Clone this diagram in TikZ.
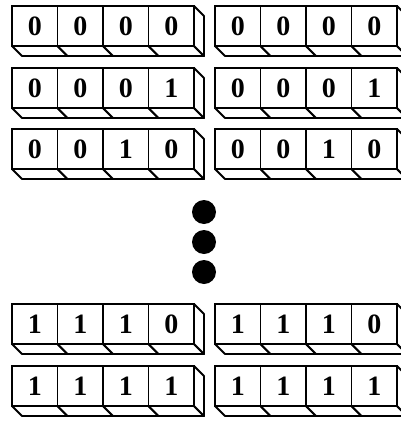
\documentclass[tikz,border=0pt]{standalone}
\usepackage{fontspec}
\setmainfont{Liberation Serif}
\usepackage{tikz}

\newcommand{\cellfont}{\fontsize{28}{28}\selectfont\bfseries}

\tikzset{
  cellbox/.style={draw, fill=white, line width=1.9pt, minimum width=45.5pt,
                  minimum height=40pt, inner sep=0pt, outer sep=0pt, font=\cellfont},
  sideface/.style={draw, fill=white, line width=1.9pt, line join=round},
  dotmark/.style={circle, fill=black, minimum size=24pt, inner sep=0pt}
}

\begin{document}
\begin{tikzpicture}[x=1pt,y=-1pt]
                        \useasboundingbox (0,0) rectangle (401,421);
                        \clip (0,0) rectangle (401,421);

                        % Registers
                        \foreach \row/\top/\ba/\bb/\bc/\bd in {1/6/0/0/0/0, 2/68/0/0/0/1, 3/129/0/0/1/0, 4/304/1/1/1/0, 5/366/1/1/1/1}{
                          \foreach \grp/\xo in {L/12, R/215}{
                            % Front cells
                            \foreach \i/\b in {1/\ba, 2/\bb, 3/\bc, 4/\bd}
                              \node[cellbox] (\grp\row c\i) at (\xo+45.5*\i-22.75, \top+20) {\b};
                            % Bottom faces
                            \foreach \i in {1,...,4}
                              \draw[sideface] (\grp\row c\i.south west) -- ++(10,10) -- ++(45.5,0)
                                -- (\grp\row c\i.south east) -- cycle;
                            % Right face
                            \draw[sideface] (\grp\row c4.north east) -- ++(10,10) -- ++(0,40)
                              -- (\grp\row c4.south east) -- cycle;
                          }
                        }

                        % Dots
                        \node[dotmark] (dot1) at (204,212) {};
                        \node[dotmark] (dot2) at (204,242) {};
                        \node[dotmark] (dot3) at (204,272) {};
\end{tikzpicture}
\end{document}
